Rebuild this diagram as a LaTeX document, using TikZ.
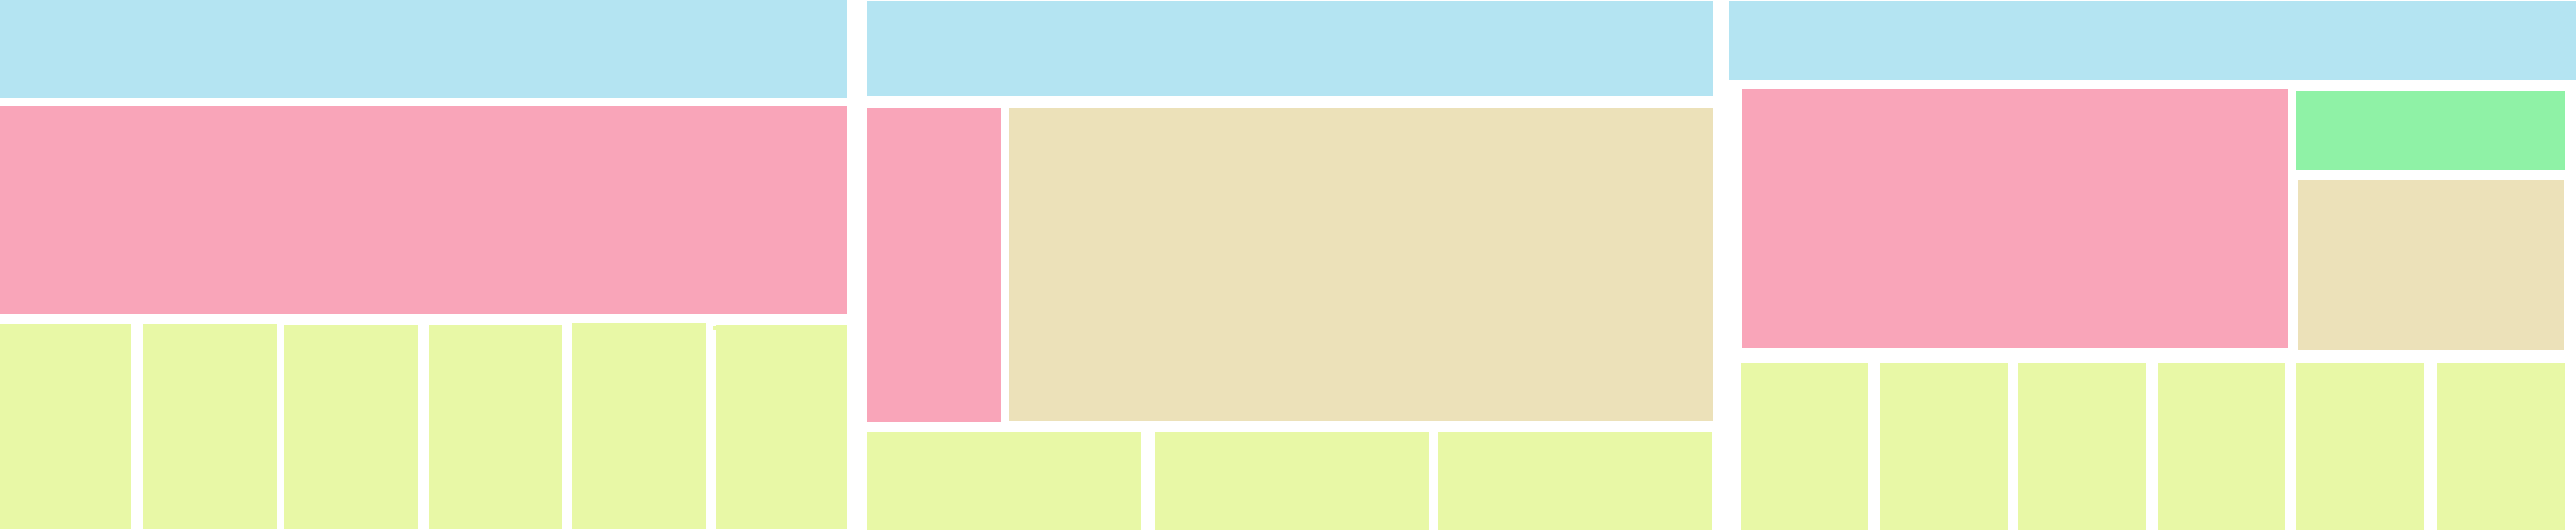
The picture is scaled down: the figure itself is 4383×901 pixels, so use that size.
\documentclass[tikz,border=0pt]{standalone}
\usepackage{tikz}

\definecolor{headblue}{HTML}{B4E4F2}
\definecolor{mainpink}{HTML}{F9A5B9}
\definecolor{cellgreen}{HTML}{E8F8A6}
\definecolor{bodybeige}{HTML}{ECE1B9}
\definecolor{sidemint}{HTML}{8FF2A6}

\tikzset{
    header/.style={fill=headblue},
    mainblock/.style={fill=mainpink},
    bodyblock/.style={fill=bodybeige},
    sideblock/.style={fill=sidemint},
    cell/.style={fill=cellgreen}
}

\begin{document}
\begin{tikzpicture}[x=0.1mm, y=-0.1mm]
    \useasboundingbox (0,0) rectangle (4383,901);

    % 第一栏
    \fill[header] (0,0) rectangle (1440,166);
    \fill[mainblock] (0,181) rectangle (1440,534);
    \foreach \a/\b/\t in {0/224/550, 243/471/550, 483/711/553, 730/957/552, 973/1201/549, 1218/1440/553} {
        \fill[cell] (\a,\t) rectangle (\b,900);
    }
    \fill[cell] (1213,554) rectangle (1218,562);

    % 第二栏
    \fill[header] (1475,2) rectangle (2915,163);
    \fill[mainblock] (1475,183) rectangle (1702,717);
    \fill[bodyblock] (1716,183) rectangle (2915,716);
    \foreach \a/\b/\t in {1475/1942/735, 1965/2431/734, 2446/2913/735} {
        \fill[cell] (\a,\t) rectangle (\b,901);
    }

    % 第三栏
    \fill[header] (2943,2) rectangle (4383,136);
    \fill[mainblock] (2964,152) rectangle (3893,592);
    \fill[sideblock] (3907,155) rectangle (4364,289);
    \fill[bodyblock] (3910,306) rectangle (4363,595);
    \foreach \a/\b in {2962/3179, 3200/3417, 3434/3651, 3671/3888, 3907/4124, 4147/4364} {
        \fill[cell] (\a,616) rectangle (\b,901);
    }
\end{tikzpicture}
\end{document}
